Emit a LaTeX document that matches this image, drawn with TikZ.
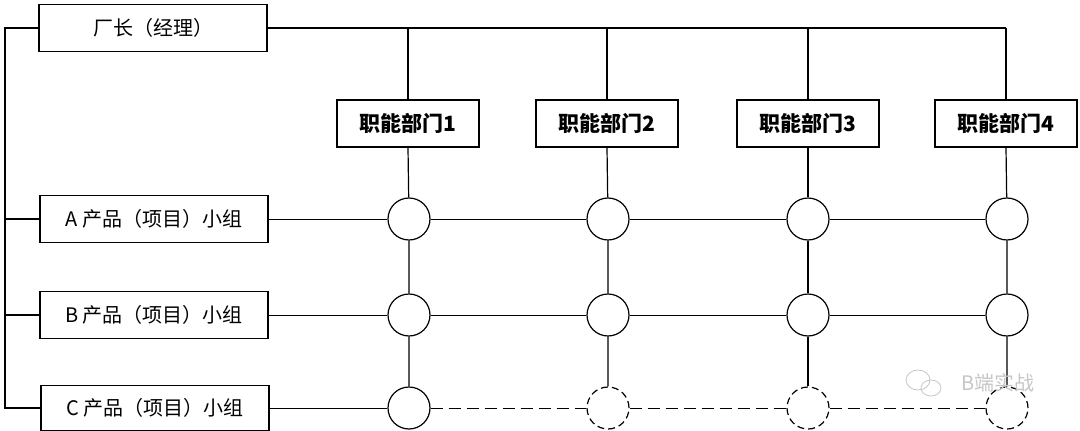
\documentclass[tikz,border=0pt]{standalone}
\usepackage{fontspec}
\newfontfamily\cjk{Noto Sans CJK SC}
\begin{document}
\begin{tikzpicture}[x=1pt,y=-1pt,
  grpbox/.style={draw, line width=1.2pt, minimum width=228pt, minimum height=47pt, inner sep=0pt, font=\cjk\fontsize{20}{22}\selectfont},
  deptbox/.style={draw, line width=1.2pt, minimum width=142pt, minimum height=47pt, inner sep=0pt, font=\cjk\bfseries\fontsize{21}{23}\selectfont},
  cell/.style={circle, draw, line width=1.2pt, minimum size=42pt, inner sep=0pt},
  cellopt/.style={cell, dash pattern=on 7pt off 4pt},
  vline/.style={line width=1.2pt},
  hline/.style={line width=0.9pt}]
\useasboundingbox (0,0) rectangle (1080,431);
% boxes
\node[grpbox] (top) at (153,28) {厂长（经理）};
\node[grpbox] (ga) at (154,219) {A 产品（项目）小组};
\node[grpbox] (gb) at (154,315) {B 产品（项目）小组};
\node[grpbox, minimum height=45pt] (gc) at (155,408) {C 产品（项目）小组};
\node[deptbox] (d1) at (408,123.5) {职能部门1};
\node[deptbox] (d2) at (607,123.5) {职能部门2};
\node[deptbox] (d3) at (808,123.5) {职能部门3};
\node[deptbox] (d4) at (1006,123.5) {职能部门4};
% circles
\node[cell] (a1) at (409,219) {};
\node[cell] (a2) at (608,219) {};
\node[cell] (a3) at (808,219) {};
\node[cell] (a4) at (1007,219) {};
\node[cell] (b1) at (409,315) {};
\node[cell] (b2) at (608,315) {};
\node[cell] (b3) at (808,315) {};
\node[cell] (b4) at (1007,315) {};
\node[cell] (c1) at (409,408) {};
\node[cellopt] (c2) at (608,408) {};
\node[cellopt] (c3) at (808,408) {};
\node[cellopt] (c4) at (1007,408) {};
% left spine
\coordinate (lt) at (5,28);
\coordinate (lb) at (5,408);
\draw[vline] (top.west) -- (lt) -- (lb) -- (gc.west);
\draw[vline] (ga.west) -- (ga.west -| lt);
\draw[vline] (gb.west) -- (gb.west -| lt);
% top bus
\draw[vline] (top.east) -- (top.east -| d4.north);
\foreach \d in {d1,d2,d3,d4} {\draw[vline] (top.east -| \d.north) -- (\d.north);}
% columns
\draw[vline] (d1.south) -- (a1) -- (b1) -- (c1);
\draw[vline] (d2.south) -- (a2) -- (b2) -- (c2);
\draw[vline] (d3.south) -- (a3) -- (b3) -- (c3);
\draw[vline] (d4.south) -- (a4) -- (b4) -- (c4);
% rows
\draw[hline] (ga.east) -- (a1) -- (a2) -- (a3) -- (a4);
\draw[hline] (gb.east) -- (b1) -- (b2) -- (b3) -- (b4);
\draw[hline] (gc.east) -- (c1);
\draw[hline, dash pattern=on 12pt off 6pt] (c1) -- (c2) -- (c3) -- (c4);
% watermark
\draw[gray!45, line width=0.8pt] (918,380) ellipse (12 and 10);
\draw[gray!45, line width=0.8pt] (931,388) ellipse (10 and 8);
\node[text=gray!45, font=\cjk\fontsize{20}{22}\selectfont] (wm) at (998,383) {B端实战};
\end{tikzpicture}
\end{document}
